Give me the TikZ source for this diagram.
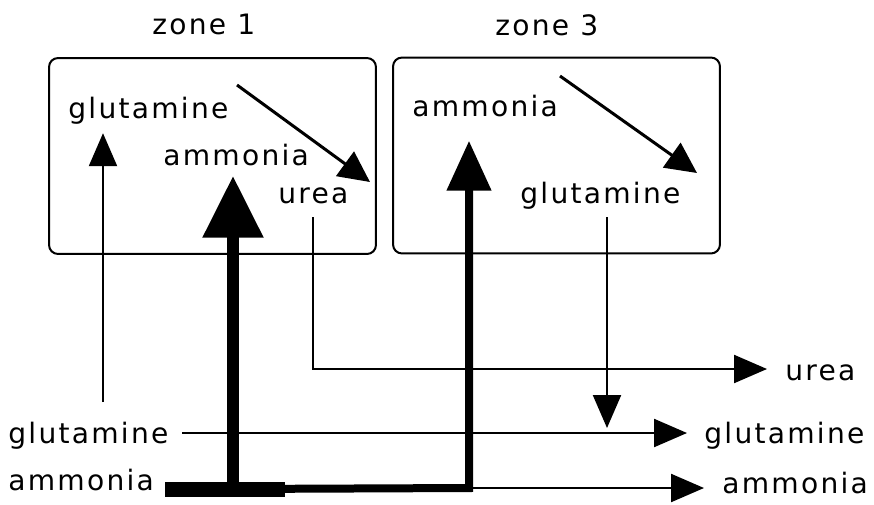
\documentclass[tikz,border=0pt]{standalone}
\usepackage{fontspec}
\setmainfont{DejaVu Sans}[LetterSpace=8]
\usetikzlibrary{arrows.meta,calc}
\begin{document}
\begin{tikzpicture}[x=0.02cm,y=-0.02cm,
  lbl/.style={font=\fontsize{16}{19}\selectfont, inner sep=0pt, anchor=base west},
  zonebox/.style={draw, line width=0.04cm, rounded corners=0.18cm, minimum width=6.54cm, minimum height=3.92cm, inner sep=0pt},
  flowthin/.style={line width=0.045cm, -{Triangle[length=0.66cm,width=0.56cm]}},
  flowdiag/.style={line width=0.06cm, -{Triangle[length=0.62cm,width=0.6cm]}},
  flowmed/.style={line width=0.16cm, line join=miter, -{Triangle[length=1.0cm,width=0.86cm]}},
  flowthick/.style={line width=0.24cm, -{Triangle[length=1.24cm,width=1.16cm]}},
  barthick/.style={line width=0.30cm}]
\useasboundingbox (0,0) rectangle (874,504);
% zones
\node[lbl] (z1) at (152,34) {zone 1};
\node[lbl] (z3) at (495,35) {zone 3};
\node[zonebox] (b1) at (212.5,156) {};
\node[zonebox] (b3) at (556.5,155.5) {};
% labels inside
\node[lbl] (g1) at (68,118) {glutamine};
\node[lbl] (a1) at (163,165) {ammonia};
\node[lbl] (u1) at (278,203) {urea};
\node[lbl] (a3) at (412,116) {ammonia};
\node[lbl] (g3) at (520,203) {glutamine};
% outer labels
\node[lbl] (gin) at (8,443) {glutamine};
\node[lbl] (ain) at (8,490) {ammonia};
\node[lbl] (uout) at (785,380) {urea};
\node[lbl] (gout) at (704,443) {glutamine};
\node[lbl] (aout) at (722,493) {ammonia};
% coordinates
\coordinate (gstart) at (103,402);
\coordinate (gL) at (182,433);
\coordinate (aL) at (165,489);
\coordinate (aR) at (285,489);
\coordinate (jA) at (233,489);
\coordinate (jB) at (469,488);
\coordinate (u1d) at (313,217);
\coordinate (jU) at (313,369);
\coordinate (g3d) at (607,217);
\coordinate (d1s) at (237,85);
\coordinate (d1e) at (370,182);
\coordinate (d3s) at (560,76);
\coordinate (d3e) at (697,173);
% connectors
\draw[flowdiag] (d1s) -- (d1e);
\draw[flowdiag] (d3s) -- (d3e);
\draw[flowthin] (gstart) -- ($(gstart |- g1.south)+(0,9)$);
\draw[flowthin] (gL) -- ([xshift=-0.34cm]gout.west |- gL);
\draw[flowthin] (u1d) -- (jU) -- ([xshift=-0.36cm]uout.west |- jU);
\draw[flowthin] (g3d) -- ($(g3d |- gL)+(0,-5)$);
\draw[flowthin] (jB) -- ([xshift=-0.36cm]aout.west |- jB);
\draw[flowmed] (jA) -- (jB) -- ($(jB |- a3.south)+(0,24)$);
\draw[barthick] (aL) -- (aR);
\draw[flowthick] (jA) -- ($(jA |- a1.south)+(0,10)$);
\end{tikzpicture}
\end{document}
